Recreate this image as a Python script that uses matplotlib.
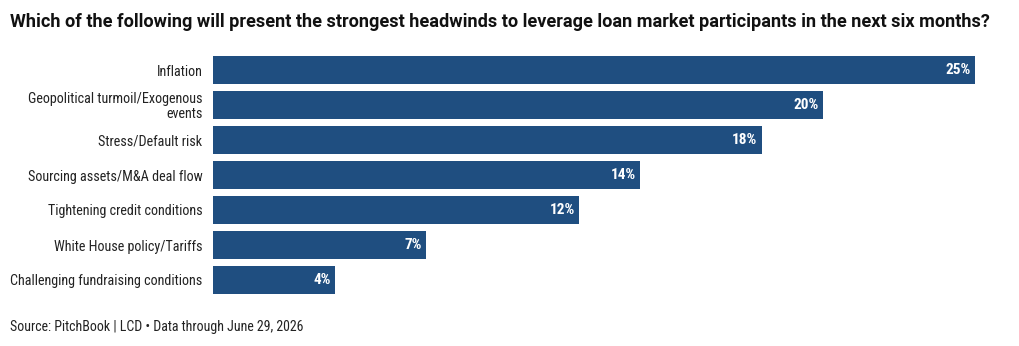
import matplotlib
matplotlib.use("Agg")
import matplotlib.pyplot as plt
from matplotlib import font_manager

names = {f.name for f in font_manager.fontManager.ttflist}
cond = "Roboto Condensed" if "Roboto Condensed" in names else "Roboto"

categories = ["Inflation", "Geopolitical turmoil/Exogenous\nevents", "Stress/Default risk",
              "Sourcing assets/M&A deal flow", "Tightening credit conditions",
              "White House policy/Tariffs", "Challenging fundraising conditions"]
values = [25, 20, 18, 14, 12, 7, 4]
value_labels = ["25%", "20%", "18%", "14%", "12%", "7%", "4%"]

color = "#1f4e80"
W, H = 1020, 346
fig = plt.figure(figsize=(W/100, H/100), dpi=100)
ax = fig.add_axes([213/W, 1-297.5/H, (975-213)/W, 245/H])
y = list(range(len(categories)))
ax.barh(y, values, height=0.78, color=color)
ax.set_xlim(0, 25)
ax.set_ylim(len(categories)-0.5, -0.5)
ax.set_yticks(y)
ax.set_yticklabels(categories, fontfamily=cond, fontsize=10.15, color="#222222",
                   linespacing=1.0)
ax.tick_params(axis="y", length=0, pad=7.5)
ax.set_xticks([])
for s in ax.spines.values():
    s.set_visible(False)
for yi, v, lab in zip(y, values, value_labels):
    ax.annotate(lab, (v, yi), xytext=(-3, 0), textcoords="offset points",
                ha="right", va="center", color="white", fontweight="bold",
                fontfamily=cond, fontsize=11)

fig.text(10/W, 1-22/H, "Which of the following will present the strongest headwinds to leverage loan market participants in the next six months?",
         fontfamily="Roboto", fontweight="bold", fontsize=13.05, va="center", ha="left", color="#111111")
fig.text(10/W, 1-327/H, "Source: PitchBook | LCD \u2022 Data through June 29, 2026",
         fontfamily=cond, fontsize=10, va="center", ha="left", color="#222222")
fig.savefig("out.png", dpi=100, facecolor="white")
